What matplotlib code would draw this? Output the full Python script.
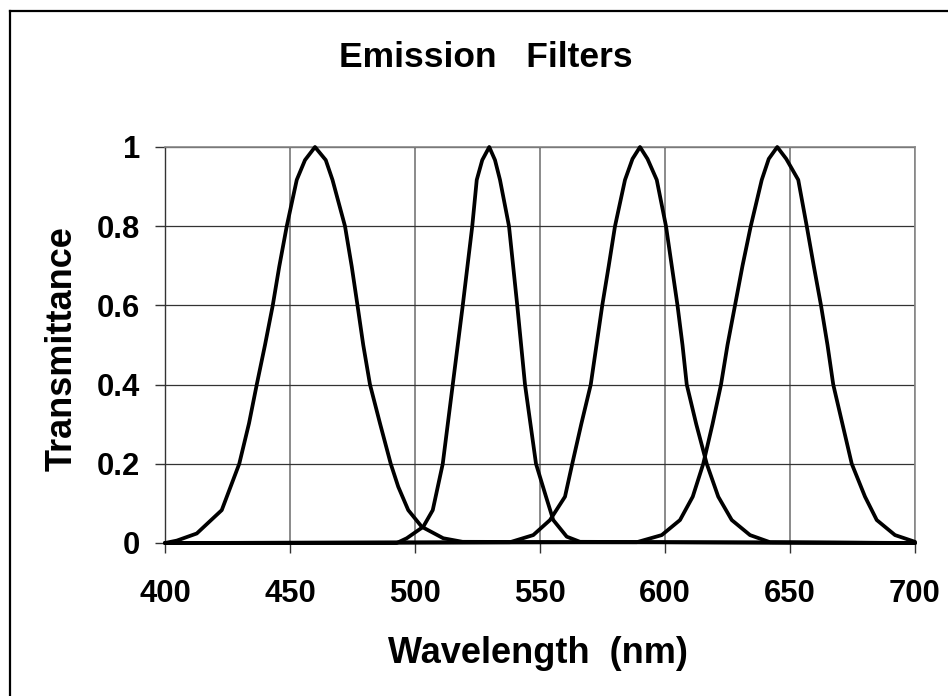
# Emission filter transmittance curves
import matplotlib
matplotlib.use("Agg")
import matplotlib.pyplot as plt
from matplotlib.lines import Line2D

# values (wavelength nm, transmittance)
wl_460 = [400, 404.7, 412.7, 422.7, 429.7, 433.6, 436.7, 440, 443.1, 445.7, 448.7, 452.7, 456, 460,
          464.3, 467, 472, 474.7, 477, 479.3, 482, 486, 490.3, 493.3, 497.3, 502.7, 511.3, 519, 700]
tr_460 = [0, 0.006, 0.024, 0.083, 0.2, 0.302, 0.4, 0.5, 0.6, 0.698, 0.8, 0.917, 0.967, 1.0,
          0.967, 0.917, 0.8, 0.698, 0.6, 0.5, 0.4, 0.302, 0.2, 0.142, 0.083, 0.041, 0.012, 0.003, 0]

wl_530 = [400, 492.7, 496.7, 503.3, 507.1, 511.1, 515.1, 519.1, 522.9, 524.7, 526.9, 529.7,
          532, 534, 537.6, 540.9, 544, 548.4, 552.4, 555.3, 560.7, 566, 700]
tr_530 = [0, 0, 0.012, 0.041, 0.083, 0.2, 0.4, 0.6, 0.8, 0.917, 0.967, 1.0,
          0.967, 0.917, 0.8, 0.6, 0.4, 0.2, 0.117, 0.058, 0.016, 0.003, 0]

wl_590 = [400, 538, 547.3, 554, 560, 562.9, 566.5, 570.3, 572.6, 574.9, 577.5, 580, 584, 587, 590,
          593, 596.7, 600.4, 602.7, 605, 607, 608.7, 612.5, 616.7, 621.3, 626.7, 634, 642, 700]
tr_590 = [0, 0.002, 0.02, 0.058, 0.117, 0.2, 0.3, 0.4, 0.5, 0.6, 0.7, 0.8, 0.917, 0.97, 1.0,
          0.97, 0.917, 0.8, 0.7, 0.6, 0.5, 0.4, 0.3, 0.2, 0.117, 0.058, 0.02, 0.002, 0]

wl_645 = [400, 588.7, 598.7, 606, 611.1, 615.3, 619, 622.4, 625, 628, 631, 634.3, 638.7, 641.5, 644.9,
          648.5, 653.3, 656.7, 659.5, 662.4, 665, 667.3, 671, 674.7, 680, 684.7, 692, 700]
tr_645 = [0, 0.002, 0.02, 0.058, 0.117, 0.2, 0.3, 0.4, 0.5, 0.6, 0.7, 0.8, 0.917, 0.97, 1.0,
          0.97, 0.917, 0.8, 0.7, 0.6, 0.5, 0.4, 0.3, 0.2, 0.117, 0.058, 0.02, 0.003]

x_ticks = [400, 450, 500, 550, 600, 650, 700]
y_ticks = [0, 0.2, 0.4, 0.6, 0.8, 1.0]
y_tick_labels = ["0", "0.2", "0.4", "0.6", "0.8", "1"]

plt.rcParams["font.family"] = ["Liberation Sans", "DejaVu Sans"]
plt.rcParams["font.weight"] = "bold"

W, H = 948, 696
fig = plt.figure(figsize=(W / 100, H / 100), dpi=100)
ax = fig.add_axes([165 / W, 1 - 543 / H, 750 / W, 396 / H])

for wl, tr in [(wl_460, tr_460), (wl_530, tr_530), (wl_590, tr_590), (wl_645, tr_645)]:
    ax.plot(wl, tr, color="black", lw=2.7, solid_joinstyle="round", solid_capstyle="round",
            clip_on=False, zorder=3)

ax.set_xlim(400, 700)
ax.set_ylim(0, 1)
ax.set_xticks(x_ticks)
ax.set_yticks(y_ticks)
ax.set_yticklabels(y_tick_labels)
ax.tick_params(axis="x", direction="out", length=7.2, width=1, pad=19, labelsize=22.3, color="#333333")
ax.tick_params(axis="y", direction="out", length=7.2, width=1, pad=10.8, labelsize=22.3, color="#333333")
for lab in ax.get_xticklabels() + ax.get_yticklabels():
    lab.set_fontweight("bold")

ax.xaxis.grid(True, color="#777777", lw=1.2)
ax.yaxis.grid(True, color="#333333", lw=0.9)
ax.set_axisbelow(True)
for side in ["top", "right"]:
    ax.spines[side].set_color("#888888")
    ax.spines[side].set_linewidth(1.2)
ax.spines["left"].set_color("#333333")
ax.spines["left"].set_linewidth(1)
ax.spines["bottom"].set_color("black")
ax.spines["bottom"].set_linewidth(1.5)

fig.text(485.5 / W, 1 - 67.3 / H, "Emission   Filters", ha="center", va="baseline",
         fontsize=25.5, fontweight="bold")
fig.text(538.4 / W, 1 - 663 / H, "Wavelength  (nm)", ha="center", va="baseline",
         fontsize=26, fontweight="bold")
fig.text(71.7 / W, 1 - 349 / H, "Transmittance", ha="center", va="baseline", rotation=90,
         rotation_mode="anchor", fontsize=26, fontweight="bold")

# outer chart border (right and bottom edges fall outside the image)
fig.add_artist(Line2D([10 / W, 10 / W], [-0.1, 1 - 11 / H], transform=fig.transFigure,
                      color="black", lw=1.6))
fig.add_artist(Line2D([10 / W, 1.1], [1 - 11 / H, 1 - 11 / H], transform=fig.transFigure,
                      color="black", lw=1.6))

fig.savefig("out.png", dpi=100)
